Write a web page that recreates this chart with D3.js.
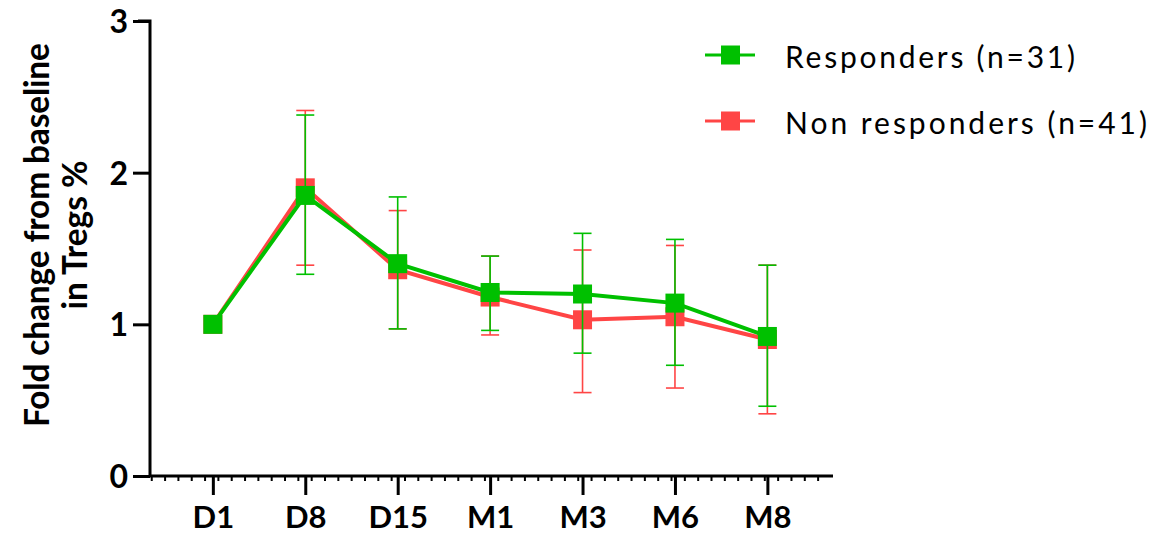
<!DOCTYPE html>
<html><head><meta charset="utf-8">
<script src="https://cdn.jsdelivr.net/npm/d3@7"></script>
<style>body{margin:0;background:#fff}svg{display:block}</style>
</head><body>
<svg id="c" width="1161" height="541"></svg>
<script>
const categories = ["D1","D8","D15","M1","M3","M6","M8"];
const yTicks = [0,1,2,3];
const seriesNames = ["Responders (n=31)","Non responders (n=41)"];
const seriesColors = ["#00c000","#ff4545"];
const respMean = [1.00,1.85,1.40,1.21,1.20,1.14,0.92];
const respLow  = [null,1.33,0.97,0.96,0.81,0.73,0.46];
const respHigh = [null,2.38,1.84,1.45,1.60,1.56,1.39];
const nonMean  = [1.00,1.90,1.36,1.18,1.03,1.05,0.90];
const nonLow   = [null,1.39,0.97,0.93,0.55,0.58,0.41];
const nonHigh  = [null,2.41,1.75,1.45,1.49,1.52,1.39];

const series = [
  {name:seriesNames[1], color:seriesColors[1], mean:nonMean, low:nonLow, high:nonHigh},
  {name:seriesNames[0], color:seriesColors[0], mean:respMean, low:respLow, high:respHigh}
];

const svg = d3.select("#c");
const FONT = "Lato, 'Open Sans', sans-serif";

const x = d3.scaleLinear().domain([-0.68, 6.71]).range([150, 833]);
const y = d3.scaleLinear().domain([0,3]).range([476, 21]);

// Y axis
const gy = svg.append("g").attr("transform","translate(150,0)")
  .call(d3.axisLeft(y).tickValues(yTicks).tickFormat(d3.format("d")).tickSize(17).tickPadding(5));
gy.select(".domain").attr("d", `M-12,${y(3)}H0V${y(0)}`).attr("stroke","#000").attr("stroke-width",3).attr("fill","none");
gy.selectAll(".tick line").attr("stroke","#000").attr("stroke-width",3);
gy.selectAll(".tick text").attr("font-family",FONT).attr("font-weight","bold").attr("font-size",32).attr("fill","#000").attr("dy","0.36em");

// X axis
const gx = svg.append("g").attr("transform",`translate(0,${y(0)})`)
  .call(d3.axisBottom(x).tickValues(d3.range(categories.length)).tickFormat(i=>categories[i]).tickSize(19).tickPadding(8));
gx.select(".domain").attr("d", `M150,0H833`).attr("stroke","#000").attr("stroke-width",3);
gx.selectAll(".tick line").attr("stroke","#000").attr("stroke-width",3);
gx.selectAll(".tick text").attr("font-family",FONT).attr("font-weight","bold").attr("font-size",31).attr("fill","#000").attr("dy","0.8em");
// minor ticks
gx.append("g").selectAll("line").data(d3.range(0,51)).join("line")
  .attr("x1",k=>x(-0.661 + k*0.1442)).attr("x2",k=>x(-0.661 + k*0.1442))
  .attr("y1",0).attr("y2",5).attr("stroke","#000").attr("stroke-width",2);

// Y label
const yl = svg.append("text").attr("transform","translate(0,235) rotate(-90)")
  .attr("text-anchor","middle").attr("font-family",FONT).attr("font-weight","bold").attr("font-size",33.5).attr("fill","#000");
yl.append("tspan").attr("x",0).attr("y",49).attr("textLength",384).attr("lengthAdjust","spacing").text("Fold change from baseline");
yl.append("tspan").attr("x",0).attr("y",87).text("in Tregs %");

// Series
const line = d3.line().x((d,i)=>x(i)).y(d=>y(d));
const MS = 19, CAP = 18;
series.forEach(s=>{
  const g = svg.append("g");
  g.append("path").datum(s.mean).attr("d",line).attr("fill","none").attr("stroke",s.color).attr("stroke-width",4);
  g.selectAll("rect").data(s.mean).join("rect")
    .attr("x",(d,i)=>x(i)-MS/2).attr("y",d=>y(d)-MS/2).attr("width",MS).attr("height",MS).attr("fill",s.color);
  const eb = s.mean.map((m,i)=>({i,lo:s.low[i],hi:s.high[i]})).filter(d=>d.lo!=null);
  g.selectAll("line.v").data(eb).join("line").attr("class","v")
    .attr("x1",d=>x(d.i)).attr("x2",d=>x(d.i)).attr("y1",d=>y(d.lo)).attr("y2",d=>y(d.hi))
    .attr("stroke",s.color).attr("stroke-width",1.6);
  ["lo","hi"].forEach(k=>{
    g.selectAll("line.c"+k).data(eb).join("line").attr("class","c"+k)
      .attr("x1",d=>x(d.i)-CAP/2).attr("x2",d=>x(d.i)+CAP/2).attr("y1",d=>y(d[k])).attr("y2",d=>y(d[k]))
      .attr("stroke",s.color).attr("stroke-width",1.6);
  });
});

// Legend
const legY = [55,121];
seriesNames.forEach((n,i)=>{
  const g = svg.append("g").attr("transform",`translate(0,${legY[i]})`);
  g.append("line").attr("x1",705).attr("x2",755).attr("y1",0).attr("y2",0).attr("stroke",seriesColors[i]).attr("stroke-width",3);
  g.append("rect").attr("x",721).attr("y",-9.5).attr("width",19).attr("height",19).attr("fill",seriesColors[i]);
  g.append("text").attr("x",785).attr("y",2).attr("dy","0.35em").attr("font-family",FONT).attr("font-size",30).attr("fill","#000")
    .attr("textLength", i===0?290:362).attr("lengthAdjust","spacing").text(n);
});
</script>
</body></html>
